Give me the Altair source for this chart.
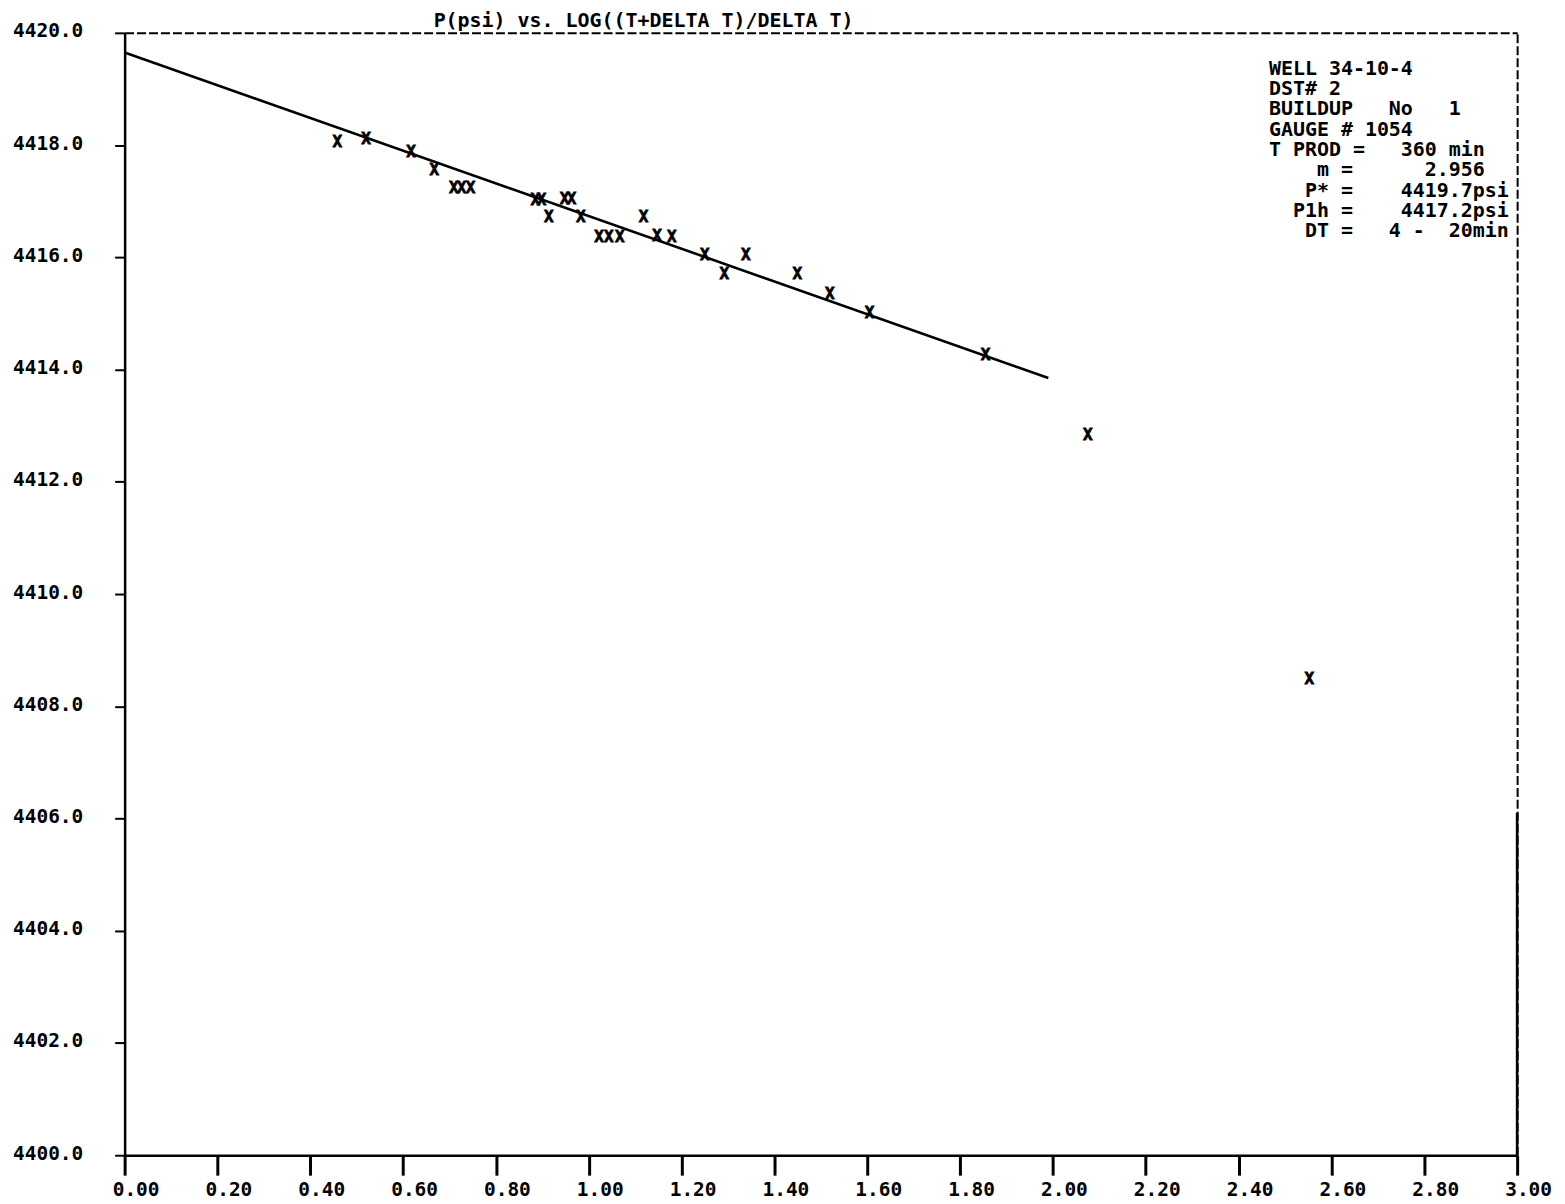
import altair as alt
import pandas as pd

# Data
pt_x = [0.458, 0.520, 0.617, 0.667, 0.709, 0.726, 0.745, 0.885, 0.898, 0.914,
        0.948, 0.963, 0.983, 1.022, 1.043, 1.067, 1.118, 1.147, 1.179, 1.250,
        1.292, 1.338, 1.449, 1.519, 1.605, 1.855, 2.075, 2.552]
pt_p = [4418.06, 4418.11, 4417.87, 4417.56, 4417.24, 4417.24, 4417.24, 4417.02, 4417.02, 4416.71,
        4417.04, 4417.04, 4416.72, 4416.36, 4416.36, 4416.36, 4416.72, 4416.38, 4416.37, 4416.04,
        4415.71, 4416.04, 4415.71, 4415.34, 4415.00, 4414.26, 4412.84, 4408.48]

fit_x = [0.0, 1.99]
fit_p = [4419.65, 4413.85]

x_ticks = [round(0.2 * i, 2) for i in range(16)]
y_ticks = [4400 + 2 * i for i in range(11)]

# solid lower stretch of the right-hand frame edge
frame_x = [3.0]
frame_p = [4400.0]
frame_p2 = [4406.1]

title_text = ["P(psi) vs. LOG((T+DELTA T)/DELTA T)"]
info_lines = [
    "WELL 34-10-4",
    "DST# 2",
    "BUILDUP   No   1",
    "GAUGE # 1054",
    "T PROD =   360 min",
    "    m =      2.956",
    "   P* =    4419.7psi",
    "  P1h =    4417.2psi",
    "   DT =   4 -  20min",
]

# keep leading/inner spaces: zero-width lead + no-break spaces
info_text = ["\u200b" + s.replace(" ", "\u00a0") for s in info_lines]

FONT = "DejaVu Sans Mono"

pts = pd.DataFrame({"x": pt_x, "p": pt_p})
fit = pd.DataFrame({"x": fit_x, "p": fit_p})
frame = pd.DataFrame({"x": frame_x, "p": frame_p, "p2": frame_p2})

xs = alt.Scale(domain=[0, 3], nice=False, zero=False)
ys = alt.Scale(domain=[4400, 4420], nice=False, zero=False)

line = alt.Chart(fit).mark_line(color="black", strokeWidth=2.6).encode(
    x=alt.X("x:Q", scale=xs, title=None,
            axis=alt.Axis(orient="bottom", values=x_ticks, format=".2f", grid=False,
                          domainColor="black", domainWidth=2.5,
                          tickColor="black", tickWidth=3, tickSize=20,
                          labelFont=FONT, labelFontWeight="bold", labelFontSize=19.5,
                          labelColor="black", labelPadding=5, labelOffset=11,
                          labelFlush=False, labelOverlap=False)),
    y=alt.Y("p:Q", scale=ys, title=None,
            axis=alt.Axis(orient="left", values=y_ticks, format=".1f", grid=False,
                          domainColor="black", domainWidth=2.5,
                          tickColor="black", tickWidth=2, tickSize=10,
                          labelFont=FONT, labelFontWeight="bold", labelFontSize=19.5,
                          labelColor="black", labelPadding=32, labelOffset=-2,
                          labelFlush=False, labelOverlap=False)),
)

marks = alt.Chart(pts).mark_text(text="X", font=FONT, fontWeight="bold", fontSize=16,
                                 color="black", stroke="black", strokeWidth=0.8,
                                 baseline="middle", align="center").encode(
    x=alt.X("x:Q", scale=xs, title=None,
            axis=alt.Axis(orient="top", labels=False, ticks=False, grid=False,
                          domainColor="black", domainWidth=2, domainDash=[9, 3])),
    y=alt.Y("p:Q", scale=ys, title=None,
            axis=alt.Axis(orient="right", labels=False, ticks=False, grid=False,
                          domainColor="black", domainWidth=2, domainDash=[9, 3])),
)

edge = alt.Chart(frame).mark_rule(color="black", strokeWidth=2.6).encode(
    x=alt.X("x:Q", scale=xs, axis=None),
    y=alt.Y("p:Q", scale=ys, axis=None),
    y2="p2:Q",
)

info = alt.Chart(pd.DataFrame({"t": [info_text]})).mark_text(
    font=FONT, fontWeight="bold", fontSize=20, lineHeight=20.4,
    align="left", baseline="top", color="black"
).encode(
    text="t",
    x=alt.value(1148),
    y=alt.value(26),
)

title = alt.Chart(pd.DataFrame({"t": title_text})).mark_text(
    font=FONT, fontWeight="bold", fontSize=20, align="left",
    baseline="alphabetic", color="black"
).encode(
    text="t",
    x=alt.value(310),
    y=alt.value(-6),
)

chart = alt.layer(line, marks, edge, info, title).resolve_axis(
    x="independent", y="independent"
).properties(
    width=1397,
    height=1126,
    autosize=alt.AutoSizeParams(type="none"),
    padding={"left": 117, "top": 23, "right": 40, "bottom": 46},
    background="white",
).configure_view(stroke=None)

chart.save("out.html", embed_options={"renderer": "svg", "actions": False})
